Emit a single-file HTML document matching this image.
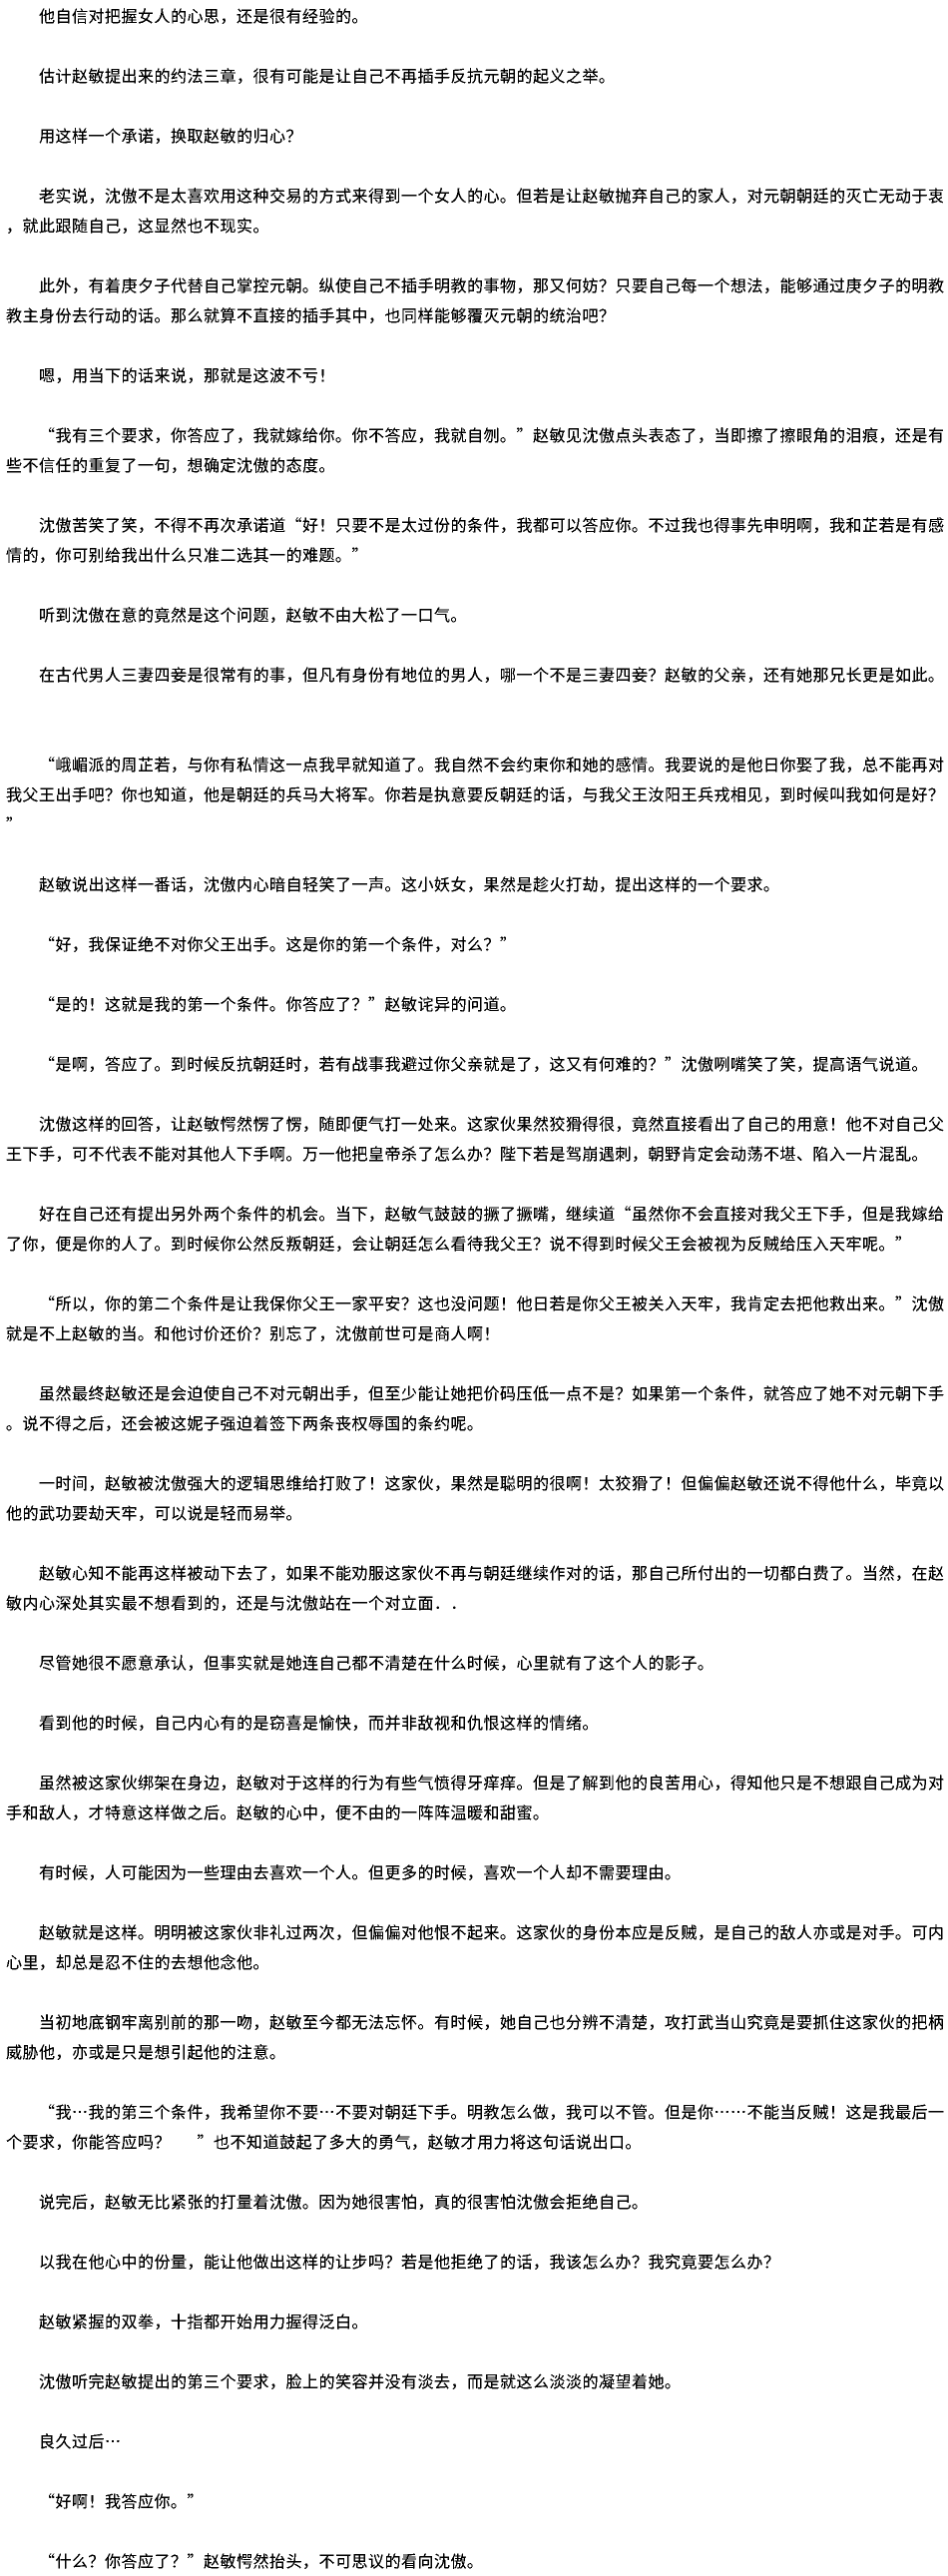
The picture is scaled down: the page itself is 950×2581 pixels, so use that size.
<!DOCTYPE html>
<html lang="zh-CN"><head><meta charset="utf-8"><title>小说</title>
<style>
html,body{margin:0;padding:0;background:#fff;width:950px;height:2581px;overflow:hidden}
#w{position:relative;width:950px;height:2581px;background:#fff;filter:url(#t)}
#w div{position:absolute;left:6px;margin-top:-2px;height:30px;line-height:30px;white-space:pre;font:16px/30px "WenQuanYi Zen Hei","Noto Sans CJK SC",sans-serif;letter-spacing:.5px;color:#000;text-spacing-trim:space-all;font-kerning:none}
#w div.i{left:39px}
</style></head><body>
<svg width="0" height="0" style="position:absolute"><filter id="t" color-interpolation-filters="sRGB" x="0" y="0" width="100%" height="100%"><feComponentTransfer><feFuncR type="discrete" tableValues="0 0 0 1"/><feFuncG type="discrete" tableValues="0 0 0 1"/><feFuncB type="discrete" tableValues="0 0 0 1"/></feComponentTransfer></filter></svg>
<div id="w">
<div class="i" style="top:2px">他自信对把握女人的心思，还是很有经验的。</div>
<div class="i" style="top:62px">估计赵敏提出来的约法三章，很有可能是让自己不再插手反抗元朝的起义之举。</div>
<div class="i" style="top:122px">用这样一个承诺，换取赵敏的归心？</div>
<div class="i" style="top:182px">老实说，沈傲不是太喜欢用这种交易的方式来得到一个女人的心。但若是让赵敏抛弃自己的家人，对元朝朝廷的灭亡无动于衷</div>
<div style="top:212px">，就此跟随自己，这显然也不现实。</div>
<div class="i" style="top:272px">此外，有着庚夕子代替自己掌控元朝。纵使自己不插手明教的事物，那又何妨？只要自己每一个想法，能够通过庚夕子的明教</div>
<div style="top:302px">教主身份去行动的话。那么就算不直接的插手其中，也同样能够覆灭元朝的统治吧？</div>
<div class="i" style="top:362px">嗯，用当下的话来说，那就是这波不亏！</div>
<div class="i" style="top:422px">“我有三个要求，你答应了，我就嫁给你。你不答应，我就自刎。”赵敏见沈傲点头表态了，当即擦了擦眼角的泪痕，还是有</div>
<div style="top:452px">些不信任的重复了一句，想确定沈傲的态度。</div>
<div class="i" style="top:512px">沈傲苦笑了笑，不得不再次承诺道“好！只要不是太过份的条件，我都可以答应你。不过我也得事先申明啊，我和芷若是有感</div>
<div style="top:542px">情的，你可别给我出什么只准二选其一的难题。”</div>
<div class="i" style="top:602px">听到沈傲在意的竟然是这个问题，赵敏不由大松了一口气。</div>
<div class="i" style="top:662px">在古代男人三妻四妾是很常有的事，但凡有身份有地位的男人，哪一个不是三妻四妾？赵敏的父亲，还有她那兄长更是如此。</div>
<div class="i" style="top:752px">“峨嵋派的周芷若，与你有私情这一点我早就知道了。我自然不会约束你和她的感情。我要说的是他日你娶了我，总不能再对</div>
<div style="top:782px">我父王出手吧？你也知道，他是朝廷的兵马大将军。你若是执意要反朝廷的话，与我父王汝阳王兵戎相见，到时候叫我如何是好？</div>
<div style="top:812px">”</div>
<div class="i" style="top:872px">赵敏说出这样一番话，沈傲内心暗自轻笑了一声。这小妖女，果然是趁火打劫，提出这样的一个要求。</div>
<div class="i" style="top:932px">“好，我保证绝不对你父王出手。这是你的第一个条件，对么？”</div>
<div class="i" style="top:992px">“是的！这就是我的第一个条件。你答应了？”赵敏诧异的问道。</div>
<div class="i" style="top:1052px">“是啊，答应了。到时候反抗朝廷时，若有战事我避过你父亲就是了，这又有何难的？”沈傲咧嘴笑了笑，提高语气说道。</div>
<div class="i" style="top:1112px">沈傲这样的回答，让赵敏愕然愣了愣，随即便气打一处来。这家伙果然狡猾得很，竟然直接看出了自己的用意！他不对自己父</div>
<div style="top:1142px">王下手，可不代表不能对其他人下手啊。万一他把皇帝杀了怎么办？陛下若是驾崩遇刺，朝野肯定会动荡不堪、陷入一片混乱。</div>
<div class="i" style="top:1202px">好在自己还有提出另外两个条件的机会。当下，赵敏气鼓鼓的撅了撅嘴，继续道“虽然你不会直接对我父王下手，但是我嫁给</div>
<div style="top:1232px">了你，便是你的人了。到时候你公然反叛朝廷，会让朝廷怎么看待我父王？说不得到时候父王会被视为反贼给压入天牢呢。”</div>
<div class="i" style="top:1292px">“所以，你的第二个条件是让我保你父王一家平安？这也没问题！他日若是你父王被关入天牢，我肯定去把他救出来。”沈傲</div>
<div style="top:1322px">就是不上赵敏的当。和他讨价还价？别忘了，沈傲前世可是商人啊！</div>
<div class="i" style="top:1382px">虽然最终赵敏还是会迫使自己不对元朝出手，但至少能让她把价码压低一点不是？如果第一个条件，就答应了她不对元朝下手</div>
<div style="top:1412px">。说不得之后，还会被这妮子强迫着签下两条丧权辱国的条约呢。</div>
<div class="i" style="top:1472px">一时间，赵敏被沈傲强大的逻辑思维给打败了！这家伙，果然是聪明的很啊！太狡猾了！但偏偏赵敏还说不得他什么，毕竟以</div>
<div style="top:1502px">他的武功要劫天牢，可以说是轻而易举。</div>
<div class="i" style="top:1562px">赵敏心知不能再这样被动下去了，如果不能劝服这家伙不再与朝廷继续作对的话，那自己所付出的一切都白费了。当然，在赵</div>
<div style="top:1592px">敏内心深处其实最不想看到的，还是与沈傲站在一个对立面．．</div>
<div class="i" style="top:1652px">尽管她很不愿意承认，但事实就是她连自己都不清楚在什么时候，心里就有了这个人的影子。</div>
<div class="i" style="top:1712px">看到他的时候，自己内心有的是窃喜是愉快，而并非敌视和仇恨这样的情绪。</div>
<div class="i" style="top:1772px">虽然被这家伙绑架在身边，赵敏对于这样的行为有些气愤得牙痒痒。但是了解到他的良苦用心，得知他只是不想跟自己成为对</div>
<div style="top:1802px">手和敌人，才特意这样做之后。赵敏的心中，便不由的一阵阵温暖和甜蜜。</div>
<div class="i" style="top:1862px">有时候，人可能因为一些理由去喜欢一个人。但更多的时候，喜欢一个人却不需要理由。</div>
<div class="i" style="top:1922px">赵敏就是这样。明明被这家伙非礼过两次，但偏偏对他恨不起来。这家伙的身份本应是反贼，是自己的敌人亦或是对手。可内</div>
<div style="top:1952px">心里，却总是忍不住的去想他念他。</div>
<div class="i" style="top:2012px">当初地底钢牢离别前的那一吻，赵敏至今都无法忘怀。有时候，她自己也分辨不清楚，攻打武当山究竟是要抓住这家伙的把柄</div>
<div style="top:2042px">威胁他，亦或是只是想引起他的注意。</div>
<div class="i" style="top:2102px">“我…我的第三个条件，我希望你不要…不要对朝廷下手。明教怎么做，我可以不管。但是你……不能当反贼！这是我最后一</div>
<div style="top:2132px">个要求，你能答应吗？<span style="display:inline-block;width:26.5px"></span>”也不知道鼓起了多大的勇气，赵敏才用力将这句话说出口。</div>
<div class="i" style="top:2192px">说完后，赵敏无比紧张的打量着沈傲。因为她很害怕，真的很害怕沈傲会拒绝自己。</div>
<div class="i" style="top:2252px">以我在他心中的份量，能让他做出这样的让步吗？若是他拒绝了的话，我该怎么办？我究竟要怎么办？</div>
<div class="i" style="top:2312px">赵敏紧握的双拳，十指都开始用力握得泛白。</div>
<div class="i" style="top:2372px">沈傲听完赵敏提出的第三个要求，脸上的笑容并没有淡去，而是就这么淡淡的凝望着她。</div>
<div class="i" style="top:2432px">良久过后…</div>
<div class="i" style="top:2492px">“好啊！我答应你。”</div>
<div class="i" style="top:2552px">“什么？你答应了？”赵敏愕然抬头，不可思议的看向沈傲。</div>
</div>
</body></html>
